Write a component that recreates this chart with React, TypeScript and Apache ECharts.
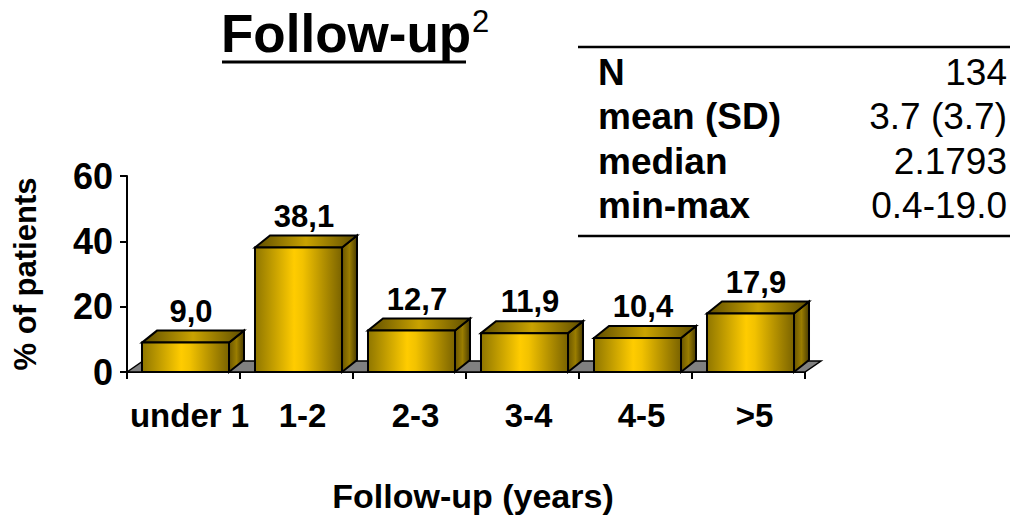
import React, { useEffect, useRef } from "react";
import * as echarts from "echarts";

const categories = ["under 1", "1-2", "2-3", "3-4", "4-5", ">5"];
const percentages = [9.0, 38.1, 12.7, 11.9, 10.4, 17.9];
const yTicks = { min: 0, max: 60, interval: 20 };
const statLabels = ["N", "mean (SD)", "median", "min-max"];
const statValues = ["134", "3.7 (3.7)", "2.1793", "0.4-19.0"];

const FONT = "'Liberation Sans', Arial, Helvetica, sans-serif";

export default function App() {
  const ref = useRef<HTMLDivElement>(null);

  useEffect(() => {
    if (!ref.current) return;
    const chart = echarts.init(ref.current, undefined, { renderer: "svg" });

    const frontGrad = () =>
      new echarts.graphic.LinearGradient(0, 0, 1, 0, [
        { offset: 0, color: "#8f7600" },
        { offset: 0.45, color: "#ffcc00" },
        { offset: 0.55, color: "#f2c200" },
        { offset: 1, color: "#7a6300" },
      ]);
    const topGrad = () =>
      new echarts.graphic.LinearGradient(0, 0, 1, 0, [
        { offset: 0, color: "#5e4d00" },
        { offset: 0.5, color: "#c9a200" },
        { offset: 1, color: "#5e4d00" },
      ]);
    const sideGrad = () =>
      new echarts.graphic.LinearGradient(0, 0, 1, 0, [
        { offset: 0, color: "#6a5600" },
        { offset: 0.5, color: "#9a7d00" },
        { offset: 1, color: "#4a3c00" },
      ]);

    const DX = 15;
    const DY = -12;

    const barRender = (params: any, api: any) => {
      const idx = api.value(0);
      const v = api.value(1);
      const base = api.coord([idx, 0]);
      const top = api.coord([idx, v]);
      const bw = api.size([1, 0])[0];
      const cx = base[0] + 2;
      const half = bw * 0.385;
      const x0 = cx - half;
      const x1 = cx + half;
      const y0 = top[1];
      const y1 = base[1];
      return {
        type: "group",
        children: [
          {
            type: "polygon",
            shape: { points: [[x1, y0], [x1 + DX, y0 + DY], [x1 + DX, y1 + DY], [x1, y1]] },
            style: { fill: sideGrad(), stroke: "#000", lineWidth: 2 },
          },
          {
            type: "polygon",
            shape: { points: [[x0, y0], [x0 + DX, y0 + DY], [x1 + DX, y0 + DY], [x1, y0]] },
            style: { fill: topGrad(), stroke: "#000", lineWidth: 2 },
          },
          {
            type: "rect",
            shape: { x: x0, y: y0, width: x1 - x0, height: y1 - y0 },
            style: { fill: frontGrad(), stroke: "#000", lineWidth: 2 },
          },
          {
            type: "text",
            x: cx + DX / 2 - 2,
            y: y0 + DY - 4,
            style: {
              text: v.toFixed(1).replace(".", ","),
              fontFamily: FONT,
              fontWeight: "bold",
              fontSize: 31,
              fill: "#000",
              align: "center",
              verticalAlign: "bottom",
            },
          },
        ],
      };
    };

    const floorRender = (params: any, api: any) => {
      if (params.dataIndex !== 0) return null;
      const n = categories.length;
      const bw = api.size([1, 0])[0];
      const a = api.coord([0, 0]);
      const b = api.coord([n - 1, 0]);
      const left = a[0] - bw / 2;
      const right = b[0] + bw / 2;
      const y = a[1];
      return {
        type: "polygon",
        shape: { points: [[left, y], [left + 16, y - 11], [right + 16, y - 11], [right, y]] },
        style: { fill: "#808080", stroke: "#000", lineWidth: 1.5 },
      };
    };

    const graphics: any[] = [
      {
        type: "text",
        left: 221,
        top: 7,
        style: { text: "Follow-up", fontFamily: FONT, fontWeight: "bold", fontSize: 53, fill: "#000" },
      },
      {
        type: "text",
        left: 472,
        top: 6,
        style: { text: "2", fontFamily: FONT, fontSize: 31, fill: "#000" },
      },
      {
        type: "line",
        shape: { x1: 222, y1: 62, x2: 466, y2: 62 },
        style: { stroke: "#000", lineWidth: 3 },
      },
      {
        type: "line",
        shape: { x1: 578, y1: 47, x2: 1010, y2: 47 },
        style: { stroke: "#000", lineWidth: 2.5 },
      },
      {
        type: "line",
        shape: { x1: 578, y1: 236, x2: 1010, y2: 236 },
        style: { stroke: "#000", lineWidth: 2.5 },
      },
    ];
    statLabels.forEach((lab, i) => {
      const yMid = 72 + i * 44.5;
      graphics.push({
        type: "text",
        x: 598,
        y: yMid,
        style: {
          text: lab,
          fontFamily: FONT,
          fontWeight: "bold",
          fontSize: 37,
          fill: "#000",
          align: "left",
          verticalAlign: "middle",
        },
      });
      graphics.push({
        type: "text",
        x: 1007,
        y: yMid,
        style: {
          text: statValues[i],
          fontFamily: FONT,
          fontSize: 37,
          fill: "#000",
          align: "right",
          verticalAlign: "middle",
        },
      });
    });

    chart.setOption({
      animation: false,
      backgroundColor: "#fff",
      grid: { left: 127, top: 176, width: 678, height: 196, containLabel: false },
      xAxis: {
        type: "category",
        data: categories,
        boundaryGap: true,
        axisLine: { show: true, lineStyle: { color: "#000", width: 2 } },
        axisTick: { show: true, length: 7, lineStyle: { color: "#000", width: 2 } },
        axisLabel: {
          interval: 0,
          fontFamily: FONT,
          fontWeight: "bold",
          fontSize: 33,
          color: "#000",
          margin: 27,
          padding: [0, 0, 0, 12],
        },
        name: "Follow-up (years)",
        nameLocation: "middle",
        nameGap: 107,
        nameTextStyle: { fontFamily: FONT, fontWeight: "bold", fontSize: 34, color: "#000", padding: [0, 0, 0, 14] },
        splitLine: { show: false },
      },
      yAxis: {
        type: "value",
        min: yTicks.min,
        max: yTicks.max,
        interval: yTicks.interval,
        axisLine: { show: true, lineStyle: { color: "#000", width: 2 } },
        axisTick: { show: true, length: 7, lineStyle: { color: "#000", width: 2 } },
        axisLabel: { fontFamily: FONT, fontWeight: "bold", fontSize: 36, color: "#000", margin: 14 },
        splitLine: { show: false },
        name: "% of patients",
        nameLocation: "middle",
        nameGap: 86,
        nameTextStyle: { fontFamily: FONT, fontWeight: "bold", fontSize: 31, color: "#000" },
      },
      series: [
        {
          type: "custom",
          name: "floor",
          data: categories.map((c, i) => [i, 0]),
          encode: { x: 0, y: 1 },
          renderItem: floorRender,
          z: 1,
          silent: true,
        },
        {
          type: "custom",
          name: "% of patients",
          data: percentages.map((v, i) => [i, v]),
          encode: { x: 0, y: 1 },
          renderItem: barRender,
          z: 2,
        },
      ],
      graphic: graphics,
    });

    return () => chart.dispose();
  }, []);

  return (
    <div
      ref={ref}
      style={{ position: "absolute", left: 0, top: 0, width: 1021, height: 524, background: "#fff" }}
    />
  );
}
